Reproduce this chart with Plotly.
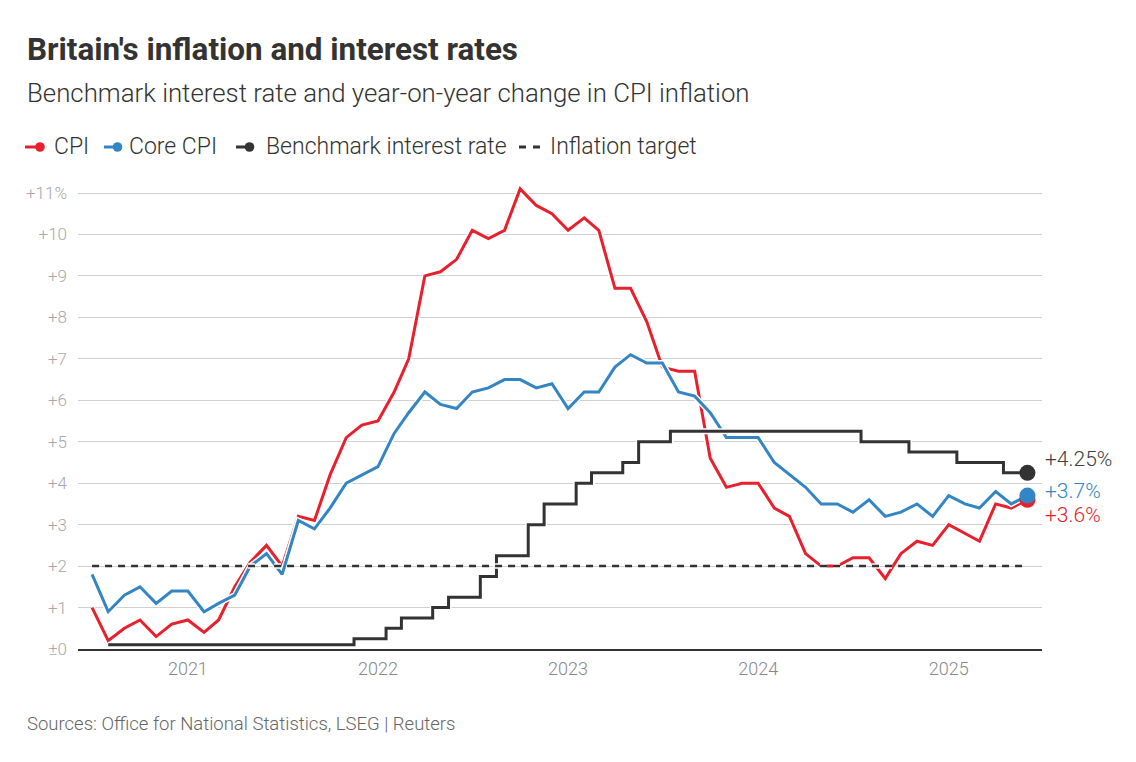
import pandas as pd
import plotly.graph_objects as go

# ---------------- data ----------------
months = pd.date_range("2020-07-01", periods=60, freq="MS")

cpi = [1.0, 0.2, 0.5, 0.7, 0.3, 0.6,
       0.7, 0.4, 0.7, 1.5, 2.1, 2.5, 2.0, 3.2, 3.1, 4.2, 5.1, 5.4,
       5.5, 6.2, 7.0, 9.0, 9.1, 9.4, 10.1, 9.9, 10.1, 11.1, 10.7, 10.5,
       10.1, 10.4, 10.1, 8.7, 8.7, 7.9, 6.8, 6.7, 6.7, 4.6, 3.9, 4.0,
       4.0, 3.4, 3.2, 2.3, 2.0, 2.0, 2.2, 2.2, 1.7, 2.3, 2.6, 2.5,
       3.0, 2.8, 2.6, 3.5, 3.4, 3.6]

core_cpi = [1.8, 0.9, 1.3, 1.5, 1.1, 1.4,
            1.4, 0.9, 1.1, 1.3, 2.0, 2.3, 1.8, 3.1, 2.9, 3.4, 4.0, 4.2,
            4.4, 5.2, 5.7, 6.2, 5.9, 5.8, 6.2, 6.3, 6.5, 6.5, 6.3, 6.4,
            5.8, 6.2, 6.2, 6.8, 7.1, 6.9, 6.9, 6.2, 6.1, 5.7, 5.1, 5.1,
            5.1, 4.5, 4.2, 3.9, 3.5, 3.5, 3.3, 3.6, 3.2, 3.3, 3.5, 3.2,
            3.7, 3.5, 3.4, 3.8, 3.5, 3.7]

# Bank Rate, monthly from Aug 2020
rate_months = months[1:]
bank_rate = [0.1, 0.1, 0.1, 0.1, 0.1,
             0.1, 0.1, 0.1, 0.1, 0.1, 0.1, 0.1, 0.1, 0.1, 0.1, 0.1, 0.25,
             0.25, 0.5, 0.75, 0.75, 1.0, 1.25, 1.25, 1.75, 2.25, 2.25, 3.0, 3.5,
             3.5, 4.0, 4.25, 4.25, 4.5, 5.0, 5.0, 5.25, 5.25, 5.25, 5.25, 5.25,
             5.25, 5.25, 5.25, 5.25, 5.25, 5.25, 5.25, 5.0, 5.0, 5.0, 4.75, 4.75,
             4.75, 4.5, 4.5, 4.5, 4.25, 4.25]

INFLATION_TARGET = 2.0

year_ticks = ["2021-01-01", "2022-01-01", "2023-01-01", "2024-01-01", "2025-01-01"]
year_labels = ["2021", "2022", "2023", "2024", "2025"]
y_ticks = list(range(0, 12))
y_labels = ["±0", "+1", "+2", "+3", "+4", "+5", "+6", "+7", "+8", "+9", "+10", "+11%"]

# ---------------- style ----------------
RED = "#e8202e"
BLUE = "#3485c3"
DARK = "#333333"
FONT = "Roboto, 'Noto Sans', sans-serif"

W, H = 1136, 762
L, R, T, B = 78, 94, 177, 113
PW, PH = W - L - R, H - T - B


def px_x(px):
    return (px - L) / PW


def px_y(py):
    return (H - B - py) / PH


fig = go.Figure()


def add_line(x, y, color, width, shape="linear", dash="solid"):
    fig.add_trace(go.Scatter(x=x, y=y, mode="lines",
                             line=dict(color="white", width=width + 3, shape=shape, dash=dash),
                             hoverinfo="skip", showlegend=False, cliponaxis=False))
    fig.add_trace(go.Scatter(x=x, y=y, mode="lines",
                             line=dict(color=color, width=width, shape=shape, dash=dash),
                             showlegend=False, cliponaxis=False))


add_line(months, cpi, RED, 3)
add_line(months, core_cpi, BLUE, 3)
add_line(rate_months, bank_rate, DARK, 3, shape="hvh")
add_line([months[0], months[-1]], [INFLATION_TARGET, INFLATION_TARGET], DARK, 2.5, dash="7px,6px")

# end dots
for xs, ys, c in [(months, cpi, RED), (months, core_cpi, BLUE), (rate_months, bank_rate, DARK)]:
    fig.add_trace(go.Scatter(x=[xs[-1]], y=[ys[-1]], mode="markers",
                             marker=dict(color=c, size=16), showlegend=False, cliponaxis=False))

# end labels
for xs, ys, c, shift in [(rate_months, bank_rate, "#404040", 14),
                         (months, core_cpi, BLUE, 5),
                         (months, cpi, RED, -15)]:
    fig.add_annotation(x=xs[-1], y=ys[-1], text=f"+{ys[-1]}%", showarrow=False,
                       xanchor="left", yanchor="middle", xshift=16, yshift=shift,
                       font=dict(family=FONT, size=21, color=c, weight=300))

# ---------------- titles ----------------
fig.add_annotation(xref="paper", yref="paper", x=px_x(25), y=px_y(50), xanchor="left", yanchor="middle",
                   text="Britain's inflation and interest rates", showarrow=False,
                   font=dict(family=FONT, size=31.4, color=DARK, weight=700))
fig.add_annotation(xref="paper", yref="paper", x=px_x(25), y=px_y(93), xanchor="left", yanchor="middle",
                   text="Benchmark interest rate and year-on-year change in CPI inflation", showarrow=False,
                   font=dict(family=FONT, size=25.8, color=DARK, weight=300))
fig.add_annotation(xref="paper", yref="paper", x=px_x(25), y=px_y(724), xanchor="left", yanchor="middle",
                   text="Sources: Office for National Statistics, LSEG | Reuters", showarrow=False,
                   font=dict(family=FONT, size=18.5, color="#666666", weight=300))

# ---------------- manual legend ----------------
LEG_Y = 147
LEG_SIZE = 23
legend_items = [
    ("CPI", RED, 25, 36, 40, 52),
    ("Core CPI", BLUE, 104, 113, 117.5, 127),
    ("Benchmark interest rate", DARK, 236, 245, 249.5, 264),
]
for label, c, x0, x1, dot, tx in legend_items:
    fig.add_shape(type="line", xref="paper", yref="paper", x0=px_x(x0), x1=px_x(x1),
                  y0=px_y(LEG_Y), y1=px_y(LEG_Y), line=dict(color=c, width=3))
    r = 4.8
    fig.add_shape(type="circle", xref="paper", yref="paper",
                  x0=px_x(dot - r), x1=px_x(dot + r), y0=px_y(LEG_Y + r), y1=px_y(LEG_Y - r),
                  fillcolor=c, line=dict(width=0))
    fig.add_annotation(xref="paper", yref="paper", x=px_x(tx), y=px_y(LEG_Y), xanchor="left",
                       yanchor="middle", text=label, showarrow=False,
                       font=dict(family=FONT, size=LEG_SIZE, color=DARK, weight=300))
for d0, d1 in [(519, 526), (533, 540)]:
    fig.add_shape(type="line", xref="paper", yref="paper", x0=px_x(d0), x1=px_x(d1),
                  y0=px_y(LEG_Y), y1=px_y(LEG_Y), line=dict(color=DARK, width=3))
fig.add_annotation(xref="paper", yref="paper", x=px_x(548), y=px_y(LEG_Y), xanchor="left",
                   yanchor="middle", text="Inflation target", showarrow=False,
                   font=dict(family=FONT, size=LEG_SIZE, color=DARK, weight=300))

# ---------------- axes ----------------
fig.update_xaxes(type="date", range=["2020-06-04", "2025-06-29"],
                 tickvals=year_ticks, ticktext=year_labels, showgrid=False,
                 showline=True, linecolor=DARK, linewidth=1.5, ticks="",
                 ticklabelstandoff=3,
                 tickfont=dict(family=FONT, size=18, color="#888888", weight=300))
fig.update_yaxes(range=[0, 11.386], tickvals=y_ticks, ticktext=y_labels,
                 showgrid=True, gridcolor="#d0d0d0", gridwidth=1, zeroline=False,
                 showline=False, ticks="", ticklabelstandoff=10,
                 tickfont=dict(family=FONT, size=17, color="#a8a8a8", weight=300))

fig.update_layout(width=W, height=H, margin=dict(l=L, r=R, t=T, b=B, autoexpand=False),
                  paper_bgcolor="white", plot_bgcolor="white", showlegend=False,
                  font=dict(family=FONT), hovermode=False)

fig.write_html("out.html", config={"displayModeBar": False, "staticPlot": True},
               post_script="document.body.style.margin='0px';")
